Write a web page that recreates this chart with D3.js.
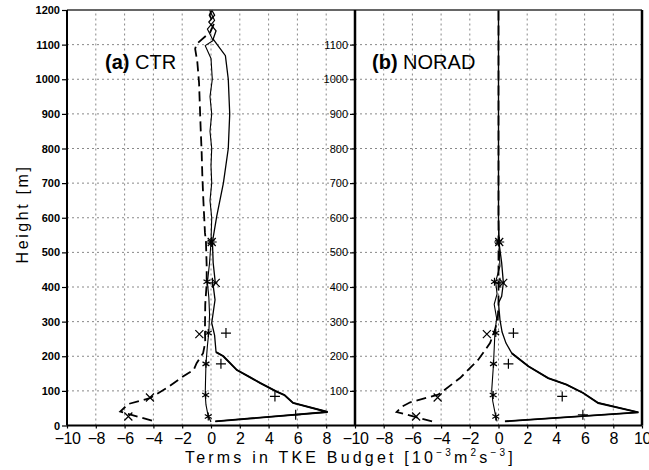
<!DOCTYPE html>
<html><head><meta charset="utf-8">
<script src="https://cdn.jsdelivr.net/npm/d3@7"></script>
<style>body{margin:0;background:#fff}</style>
</head><body><svg id="c" width="649" height="470"></svg>
<script>
// ---- tick values ----
const yTicksLeft = d3.range(0, 1201, 100);
const yTicksRight = d3.range(100, 1101, 100);
const xTicksLeft = d3.range(-10, 9, 2);
const xTicksRight = d3.range(-10, 11, 2);
const gridX = d3.range(-8, 9, 2);
const gridY = d3.range(100, 1101, 100);

// ---- (a) CTR: [value (1e-3 m2 s-3), height (m)] ----
const ctrShear = [[0.3,12],[8.1,39],[5.7,65],[5.1,88],[4.56,98],[3.4,123],[2.6,142],[1.8,160],[0.86,200],[0.35,212],[0.25,260],[0.05,296],[0.28,363],[0.16,402],[0.3,412],[0.15,470],[0.1,530],[0.4,605],[0.86,700],[1.2,800],[1.3,900],[1.2,1000],[1.0,1068],[0.15,1116],[0.35,1140],[-0.15,1165],[0.25,1185],[0.05,1200]];
const ctrDiss = [[-4.1,14],[-6.3,40],[-5.75,62],[-4.24,79],[-3.0,110],[-1.92,142],[-1.2,161],[-1.0,180],[-0.55,209],[-0.4,240],[-0.42,277],[-0.4,350],[-0.3,410],[-0.3,460],[-0.35,530],[-0.42,557],[-0.53,650],[-0.6,720],[-0.65,790],[-0.72,860],[-0.78,930],[-0.83,990],[-0.95,1050],[-1.1,1088],[-1.0,1102],[-0.05,1136],[0.2,1160],[-0.1,1185],[0.05,1200]];
const ctrTrans = [[0.0,10],[-0.2,28],[-0.35,60],[-0.4,89],[-0.38,130],[-0.35,178],[-0.25,230],[-0.15,270],[-0.1,320],[-0.15,370],[-0.25,412],[-0.1,470],[0.0,530],[0.05,600],[-0.07,650],[0.05,700],[0.0,750],[0.05,800],[-0.07,850],[0.05,900],[-0.07,950],[0.09,1000],[0.0,1060],[-0.4,1097],[0.15,1112],[-0.25,1145],[0.25,1170],[-0.1,1200]];

// ---- (b) NORAD ----
const noradShear = [[0.45,12],[9.75,38],[6.95,65],[5.9,94],[4.74,118],[3.46,137],[2.08,171],[0.92,209],[0.52,238],[0.25,270],[0.1,306],[0.0,354],[0.22,373],[0.34,412],[0.22,470],[0.03,530],[0,600],[0,1200]];
const noradDiss = [[-4.63,12],[-7.1,39],[-6.7,55],[-6.15,67],[-4.2,89],[-3.0,127],[-2.68,137],[-1.41,190],[-0.59,238],[-0.24,277],[-0.05,310],[0,350],[0,1200]];
const noradTrans = [[-0.1,12],[-0.2,28],[-0.4,70],[-0.47,103],[-0.35,176],[-0.25,267],[-0.13,310],[-0.3,350],[-0.1,380],[-0.2,415],[0.1,460],[0.03,530],[0,600],[0,1200]];

// ---- reference points (markers) ----
const refPlus = [[5.88,31],[4.44,84],[0.69,178],[1.04,267],[0.1,412],[0.05,530]];
const refCross = [[-5.74,26],[-4.24,81],[-0.81,264],[0.33,412],[0.05,530]];
const refStar = [[-0.19,26],[-0.37,88],[-0.35,178],[-0.19,267],[-0.28,415],[0.0,530]];

const svg = d3.select('#c');
const FONT = "'Liberation Sans', Arial, Helvetica, sans-serif";
const y = d3.scaleLinear().domain([0, 1200]).range([425.5, 10]);

const panels = [
  {x0: 67, x1: 355, tag: '(a)', name: ' CTR', lx: 105, shear: ctrShear, diss: ctrDiss, trans: ctrTrans, xt: xTicksLeft, yt: yTicksLeft, ybold: true},
  {x0: 355, x1: 642, tag: '(b)', name: ' NORAD', lx: 372, shear: noradShear, diss: noradDiss, trans: noradTrans, xt: xTicksRight, yt: yTicksRight, ybold: false}
];

panels.forEach(p => {
  const x = d3.scaleLinear().domain([-10, 10]).range([p.x0, p.x1]);
  const g = svg.append('g');
  // grid
  g.selectAll('.gx').data(gridX).enter().append('line')
    .attr('x1', d => x(d)).attr('x2', d => x(d)).attr('y1', y(0)).attr('y2', y(1200))
    .attr('stroke', '#888').attr('stroke-width', 1).attr('stroke-dasharray', '2,3');
  g.selectAll('.gy').data(gridY).enter().append('line')
    .attr('x1', p.x0).attr('x2', p.x1).attr('y1', d => y(d)).attr('y2', d => y(d))
    .attr('stroke', '#888').attr('stroke-width', 1).attr('stroke-dasharray', '2,3');

  const line = d3.line().x(d => x(d[0])).y(d => y(d[1]));
  g.append('path').datum(p.diss).attr('d', line).attr('fill', 'none').attr('stroke', '#000')
    .attr('stroke-width', 1.8).attr('stroke-dasharray', '10,5');
  g.append('path').datum(p.trans).attr('d', line).attr('fill', 'none').attr('stroke', '#000')
    .attr('stroke-width', 1.1);
  g.append('path').datum(p.shear).attr('d', line).attr('fill', 'none').attr('stroke', '#000')
    .attr('stroke-width', 1.3);
  // heavier near-surface part of the shear curve
  g.append('path').datum(p.shear.filter(d => d[1] <= 215)).attr('d', line).attr('fill', 'none').attr('stroke', '#000')
    .attr('stroke-width', 1.9);

  // markers
  const mk = g.append('g').attr('stroke', '#000').attr('stroke-width', 1.2).attr('fill', 'none');
  mk.selectAll('.p').data(refPlus).enter().append('path')
    .attr('d', d => { const cx = x(d[0]), cy = y(d[1]), r = 5; return `M${cx-r},${cy}H${cx+r}M${cx},${cy-r}V${cy+r}`; });
  mk.selectAll('.x').data(refCross).enter().append('path')
    .attr('d', d => { const cx = x(d[0]), cy = y(d[1]), r = 4; return `M${cx-r},${cy-r}L${cx+r},${cy+r}M${cx-r},${cy+r}L${cx+r},${cy-r}`; });
  mk.selectAll('.s').data(refStar).enter().append('path')
    .attr('d', d => { const cx = x(d[0]), cy = y(d[1]), r = 4; let s = '';
      [90, 30, 150].forEach(a => { const dx = r*Math.cos(a*Math.PI/180), dy = r*Math.sin(a*Math.PI/180); s += `M${cx-dx},${cy-dy}L${cx+dx},${cy+dy}`; });
      return s; });

  // axes
  const xa = svg.append('g').attr('transform', `translate(0,${y(0)})`)
    .call(d3.axisBottom(x).tickValues(p.xt).tickSize(3).tickPadding(4).tickFormat(d3.format('d')));
  xa.select('.domain').remove();
  xa.selectAll('line').attr('stroke', '#000').attr('stroke-width', 1.2);
  xa.selectAll('text').attr('font-family', FONT).attr('font-size', 16).attr('fill', '#000').attr('letter-spacing', '-0.5');

  const ya = svg.append('g').attr('transform', `translate(${p.x0},0)`)
    .call(d3.axisLeft(y).tickValues(p.yt).tickSize(5).tickPadding(2).tickFormat(d3.format('d')));
  ya.select('.domain').remove();
  ya.selectAll('line').attr('stroke', '#000').attr('stroke-width', 1.2);
  ya.selectAll('text').attr('font-family', FONT).attr('font-size', 11).attr('fill', '#000')
    .attr('font-weight', p.ybold ? 'bold' : 'normal');

  // panel label
  const t = svg.append('text').attr('x', p.lx).attr('y', 69).attr('font-family', FONT).attr('font-size', 20).attr('fill', '#000');
  t.append('tspan').attr('font-weight', 'bold').text(p.tag);
  t.append('tspan').text(p.name);
});

// frame
svg.append('line').attr('x1', 67).attr('x2', 642).attr('y1', y(1200)).attr('y2', y(1200)).attr('stroke', '#333').attr('stroke-width', 1.5);
svg.append('line').attr('x1', 67).attr('x2', 642).attr('y1', y(0)).attr('y2', y(0)).attr('stroke', '#000').attr('stroke-width', 2);
[[67, 2], [355, 2.5], [642, 2.5]].forEach(([xx, w]) => {
  svg.append('line').attr('x1', xx).attr('x2', xx).attr('y1', y(0)).attr('y2', y(1200)).attr('stroke', '#000').attr('stroke-width', w);
});

// axis titles
const xt = svg.append('text').attr('x', 185).attr('y', 463).attr('font-family', FONT).attr('font-size', 16)
  .attr('letter-spacing', '3.2').attr('fill', '#000');
xt.append('tspan').text('Terms in TKE Budget [10');
xt.append('tspan').attr('font-size', 10).attr('dy', -7).text('−3');
xt.append('tspan').attr('dy', 7).text('m');
xt.append('tspan').attr('font-size', 10).attr('dy', -7).text('2');
xt.append('tspan').attr('dy', 7).text('s');
xt.append('tspan').attr('font-size', 10).attr('dy', -7).text('−3');
xt.append('tspan').attr('dy', 7).text(']');

svg.append('text').attr('transform', 'translate(28,214) rotate(-90)').attr('text-anchor', 'middle')
  .attr('font-family', FONT).attr('font-size', 16).attr('letter-spacing', '2.6').attr('fill', '#000')
  .text('Height [m]');
</script>
</body></html>
